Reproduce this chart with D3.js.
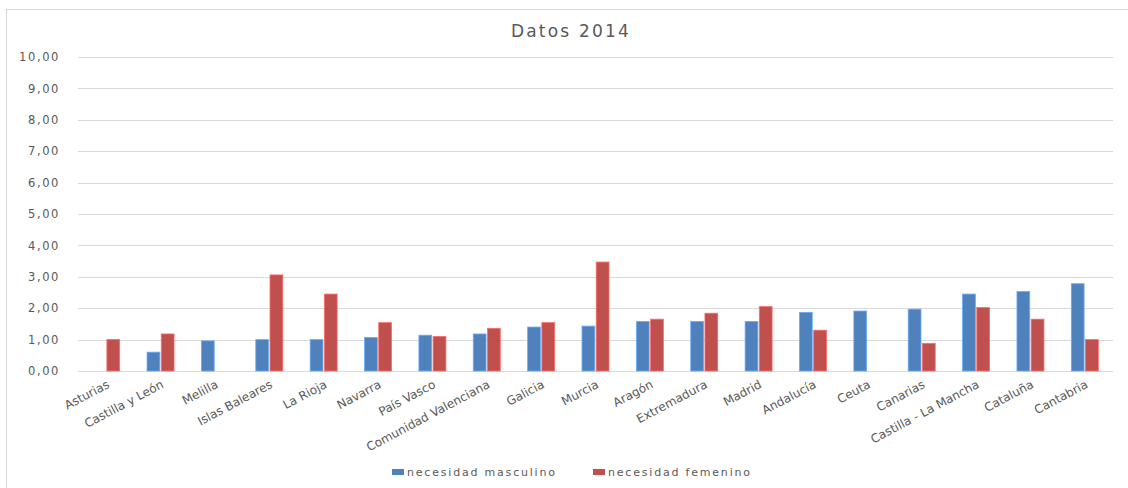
<!DOCTYPE html>
<html>
<head>
<meta charset="utf-8">
<script src="https://cdn.jsdelivr.net/npm/d3@7"></script>
<style>
  body { margin: 0; background: #fff; }
  svg { display: block; }
</style>
</head>
<body>
<div id="chart"></div>
<script>
// chart data
const regiones = ["Asturias", "Castilla y León", "Melilla", "Islas Baleares", "La Rioja", "Navarra",
    "País Vasco", "Comunidad Valenciana", "Galicia", "Murcia", "Aragón", "Extremadura", "Madrid",
    "Andalucía", "Ceuta", "Canarias", "Castilla - La Mancha", "Cataluña", "Cantabria"];
const masculino = [0, 0.60, 0.96, 1.00, 1.00, 1.07, 1.14, 1.18, 1.40, 1.43, 1.58, 1.58, 1.58,
    1.87, 1.91, 1.97, 2.45, 2.53, 2.78];
const femenino = [1.00, 1.18, 0, 3.06, 2.45, 1.54, 1.10, 1.36, 1.54, 3.47, 1.65, 1.84, 2.05,
    1.30, 0, 0.88, 2.02, 1.65, 1.00];
const seriesNames = ["necesidad masculino", "necesidad femenino"];
const yTicks = [0, 1, 2, 3, 4, 5, 6, 7, 8, 9, 10];

const width = 1128, height = 488;
const margin = { top: 57, right: 16, bottom: 117, left: 79 };
const colors = ["#4F81BD", "#C0504D"];
const textColor = "#595959";
const font = "'DejaVu Sans', sans-serif";

const data = regiones.map((r, i) => ({ region: r, values: [masculino[i], femenino[i]] }));

const svg = d3.select("#chart").append("svg")
    .attr("width", width)
    .attr("height", height);

// outer frame
svg.append("rect")
    .attr("x", 6.5).attr("y", 9.5)
    .attr("width", width).attr("height", height)
    .attr("fill", "none")
    .attr("stroke", "#d9d9d9");

const x = d3.scaleBand()
    .domain(regiones)
    .range([margin.left, width - margin.right]);

const x1 = d3.scaleBand()
    .domain([0, 1])
    .range([x.bandwidth() / 2 - 13.5, x.bandwidth() / 2 + 13.5])
    .paddingInner(0.1);

const y = d3.scaleLinear()
    .domain([0, 10])
    .range([height - margin.bottom, margin.top]);

// gridlines
svg.append("g")
    .selectAll("line")
    .data(yTicks)
    .join("line")
    .attr("x1", margin.left - 1)
    .attr("x2", width - margin.right + 1)
    .attr("y1", d => Math.round(y(d)) + 0.5)
    .attr("y2", d => Math.round(y(d)) + 0.5)
    .attr("stroke", "#d9d9d9")
    .attr("stroke-width", 1);

// y labels
const yAxis = svg.append("g")
    .attr("transform", `translate(${margin.left - 16},0)`)
    .call(d3.axisLeft(y).tickValues(yTicks).tickSize(0).tickFormat(d => d3.format(".2f")(d).replace(".", ",")));
yAxis.select(".domain").remove();
yAxis.selectAll("text")
    .attr("fill", textColor)
    .style("font-family", font)
    .style("font-size", "11.5px")
    .style("letter-spacing", "1.6px");

// bars
const groups = svg.append("g")
    .selectAll("g")
    .data(data)
    .join("g")
    .attr("transform", d => `translate(${x(d.region)},0)`);

groups.selectAll("rect")
    .data(d => d.values.map((v, i) => ({ v, i })))
    .join("rect")
    .attr("x", d => x1(d.i))
    .attr("y", d => y(d.v))
    .attr("width", x1.bandwidth())
    .attr("height", d => y(0) - y(d.v))
    .attr("fill", d => colors[d.i])
    .attr("stroke", d => d.v > 0 ? d3.color(colors[d.i]).brighter(0.8) : "none")
    .attr("stroke-width", 0.8);

// x labels
svg.append("g")
    .selectAll("text")
    .data(regiones)
    .join("text")
    .attr("transform", d => `translate(${x(d) + x.bandwidth() / 2 + 4},${y(0) + 16}) rotate(-28)`)
    .attr("text-anchor", "end")
    .attr("fill", textColor)
    .style("font-family", font)
    .style("font-size", "12px")
    .text(d => d);

// title
svg.append("text")
    .attr("x", 571)
    .attr("y", 37)
    .attr("text-anchor", "middle")
    .attr("fill", textColor)
    .style("font-family", font)
    .style("font-size", "17px")
    .style("letter-spacing", "2.2px")
    .text("Datos 2014");

// legend
const legendX = [392, 593];
const legend = svg.append("g")
    .selectAll("g")
    .data(seriesNames)
    .join("g")
    .attr("transform", (d, i) => `translate(${legendX[i]},469)`);
legend.append("rect")
    .attr("width", 12).attr("height", 6)
    .attr("fill", (d, i) => colors[i]);
legend.append("text")
    .attr("x", 15)
    .attr("y", 7)
    .attr("fill", textColor)
    .style("font-family", font)
    .style("font-size", "11px")
    .style("letter-spacing", "1.8px")
    .text(d => d);
</script>
</body>
</html>
